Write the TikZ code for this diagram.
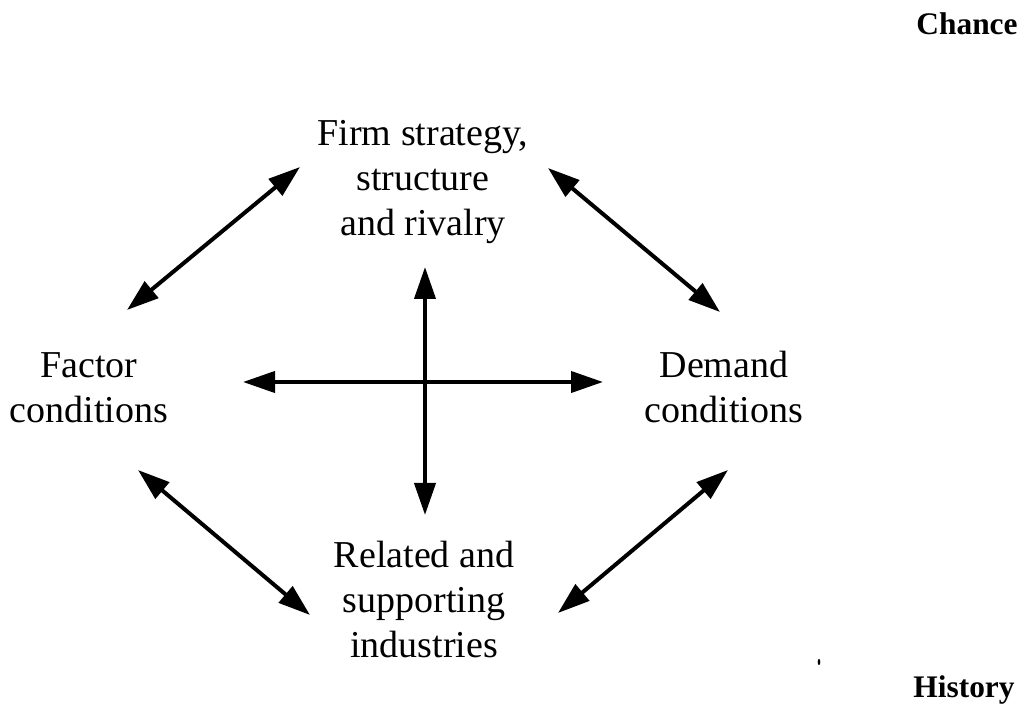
\documentclass[tikz,border=0pt]{standalone}
\usepackage{fontspec}
\setmainfont{Liberation Serif}
\usetikzlibrary{arrows.meta}
\tikzset{
	corner/.style={align=center, inner sep=0pt, anchor=base,
		font=\fontsize{19}{22.7}\selectfont},
	tag/.style={inner sep=0pt, anchor=base east,
		font=\fontsize{15.7}{18}\selectfont\bfseries},
	bothway/.style={{Triangle[length=16pt,width=10.5pt]}-{Triangle[length=16pt,width=10.5pt]},
		line width=2pt},
}
\begin{document}
\begin{tikzpicture}[x=0.5pt,y=-0.5pt]
		\useasboundingbox (0,0) rectangle (1019,705);
		% the four determinants (base = last line)
		\node[corner] (firm)    at (423,236) {Firm strategy,\\structure\\and rivalry};
		\node[corner] (factor)  at ( 89,423) {Factor\\conditions};
		\node[corner] (demand)  at (724,423) {Demand\\conditions};
		\node[corner] (related) at (424,658) {Related and\\supporting\\industries};
		% outside influences
		\node[tag] (chance)  at (1018, 35) {Chance};
		\node[tag] (history) at (1015,698) {History};
		\fill (819,662) ellipse (1.3 and 3);
		% ends of the arrows
		\coordinate (fc1) at (127,310);  \coordinate (fs1) at (300,167);
		\coordinate (fs2) at (548,168);  \coordinate (dc1) at (720,312);
		\coordinate (fc2) at (138,470);  \coordinate (rs1) at (310,615);
		\coordinate (dc2) at (728,470);  \coordinate (rs2) at (558,613);
		\coordinate (west)  at (243,382); \coordinate (east)  at (603,382);
		\coordinate (north) at (425,267); \coordinate (south) at (425,515);
		\draw[bothway] (fc1) -- (fs1);
		\draw[bothway] (fs2) -- (dc1);
		\draw[bothway] (fc2) -- (rs1);
		\draw[bothway] (dc2) -- (rs2);
		\draw[bothway] (west) -- (east);
		\draw[bothway] (north) -- (south);
	\end{tikzpicture}
\end{document}
